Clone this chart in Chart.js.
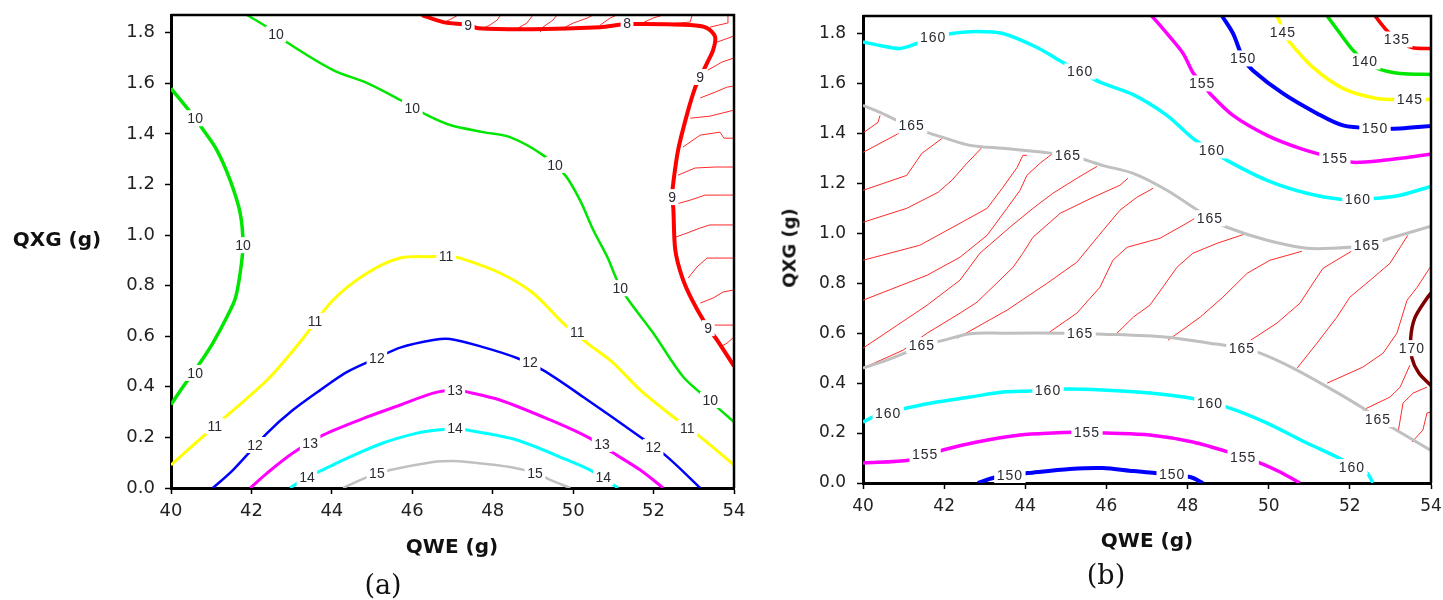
<!DOCTYPE html>
<html>
<head>
<meta charset="utf-8">
<script src="https://cdn.jsdelivr.net/npm/chart.js@4.4.1/dist/chart.umd.min.js"></script>
<style>
  body { margin: 0; background: #fff; width: 1443px; height: 600px; position: relative; overflow: hidden; }
  canvas { position: absolute; top: 0; }
  #chartA { left: 0; }
  #chartB { left: 770px; }
  .t { position: absolute; font: bold 20px "DejaVu Sans", sans-serif; color: #111; white-space: nowrap; transform: translate(-50%, -50%); }
  .cap { position: absolute; font: 27px "DejaVu Serif", serif; color: #111; transform: translate(-50%, -50%); }
</style>
</head>
<body>
<canvas id="chartA" width="760" height="600"></canvas>
<canvas id="chartB" width="673" height="600"></canvas>
<div class="t" style="left:57px; top:239px">QXG (g)</div>
<div class="t" style="left:452px; top:546px">QWE (g)</div>
<div class="cap" style="left:383px; top:584px">(a)</div>
<div class="t" style="left:789px; top:248px; font-size:18px; transform: translate(-50%, -50%) rotate(-90deg)">QXG (g)</div>
<div class="t" style="left:1147px; top:540px">QWE (g)</div>
<div class="cap" style="left:1106px; top:574px">(b)</div>
<script>
// axes
const xTicks = [40, 42, 44, 46, 48, 50, 52, 54];
const yTicks = [0.0, 0.2, 0.4, 0.6, 0.8, 1.0, 1.2, 1.4, 1.6, 1.8];
const yMax = 1.87;

// ---- panel (a): contours, [QWE, QXG]
const a10Top = [[41.89,1.87],[42.39,1.822],[42.91,1.759],[44.03,1.652],[44.88,1.601],[45.70,1.534],[46.37,1.474],[46.94,1.435],[47.76,1.407],[48.43,1.387],[49.25,1.316],[49.80,1.237],[50.17,1.138],[50.50,1.020],[50.85,0.913],[51.09,0.822],[51.34,0.751],[51.99,0.613],[52.74,0.439],[53.40,0.345],[54.0,0.261]];
const a10Left = [[40.0,1.58],[40.6,1.462],[40.77,1.423],[41.14,1.336],[41.47,1.217],[41.72,1.087],[41.79,0.96],[41.72,0.85],[41.6,0.75],[41.39,0.676],[41.04,0.573],[40.72,0.494],[40.30,0.40],[40.0,0.33]];
const a11 = [[40.0,0.091],[41.09,0.245],[42.39,0.427],[43.21,0.577],[44.03,0.743],[44.88,0.85],[45.70,0.909],[46.52,0.915],[46.84,0.917],[47.19,0.909],[48.18,0.85],[49.0,0.771],[49.75,0.652],[50.35,0.573],[51.0,0.494],[51.67,0.387],[52.49,0.281],[53.16,0.202],[54.0,0.091]];
const a12 = [[41.04,0],[41.54,0.071],[42.39,0.217],[43.03,0.308],[43.71,0.387],[44.38,0.459],[45.12,0.514],[45.70,0.555],[46.52,0.585],[46.94,0.589],[47.76,0.557],[48.6,0.514],[49.25,0.466],[50.25,0.36],[51.67,0.202],[52.34,0.123],[53.16,0]];
const a13 = [[41.97,0],[42.39,0.059],[43.03,0.138],[43.78,0.209],[44.88,0.281],[45.7,0.328],[46.52,0.375],[47.06,0.387],[47.36,0.38],[48.18,0.348],[49.43,0.269],[50.35,0.202],[51.0,0.138],[51.67,0.071],[52.24,0]];
const a14 = [[42.96,0],[43.38,0.043],[43.76,0.071],[44.45,0.123],[45.27,0.178],[46.12,0.217],[46.62,0.229],[47.06,0.233],[47.36,0.229],[48.6,0.19],[49.85,0.111],[50.42,0.071],[51.12,0]];
const a15 = [[44.28,0],[44.88,0.043],[45.45,0.071],[46.52,0.103],[47.0,0.107],[47.36,0.103],[48.43,0.083],[49.05,0.059],[49.43,0.032],[49.93,0]];
const a9 = [[46.24,1.87],[46.77,1.842],[47.39,1.830],[47.64,1.818],[49.0,1.814],[50.67,1.822],[51.34,1.834],[52.91,1.83],[53.33,1.818],[53.53,1.783],[53.48,1.731],[53.33,1.680],[53.16,1.625],[53.03,1.581],[52.84,1.482],[52.61,1.336],[52.49,1.206],[52.46,1.150],[52.49,1.107],[52.54,0.941],[52.71,0.834],[52.96,0.743],[53.36,0.632],[53.58,0.585],[54.0,0.482]];

// panel (a): thin hatch lines on the 9 side
const aHatch = [
  [[46.76,1.838],[47.01,1.858],[47.14,1.87]],
  [[47.76,1.818],[47.93,1.830],[48.11,1.85],[48.2,1.87]],
  [[48.63,1.818],[48.85,1.838],[49.0,1.87]],
  [[49.18,1.802],[49.25,1.822],[49.5,1.850],[49.6,1.87]],
  [[49.75,1.818],[50.0,1.838],[50.35,1.858],[50.5,1.87]],
  [[50.67,1.83],[50.92,1.858],[51.09,1.87]],
  [[51.66,1.834],[51.99,1.858],[52.24,1.87]],
  [[52.11,1.830],[52.58,1.838],[52.91,1.842],[52.96,1.87]],
  [[53.40,1.822],[53.83,1.838],[53.85,1.87]],
  [[53.58,1.763],[54.0,1.787]],
  [[53.35,1.652],[53.70,1.684],[54.0,1.70]],
  [[53.16,1.542],[53.53,1.565],[53.83,1.585],[54.0,1.589]],
  [[52.91,1.462],[53.40,1.470],[54.0,1.494]],
  [[52.73,1.348],[53.16,1.395],[53.65,1.407],[53.75,1.383],[54.0,1.383]],
  [[52.61,1.237],[53.03,1.265],[53.53,1.269],[54.0,1.269]],
  [[52.48,1.119],[52.91,1.138],[53.28,1.158],[54.0,1.158]],
  [[52.48,0.988],[52.83,1.008],[53.16,1.028],[53.40,1.040],[54.0,1.040]],
  [[52.86,0.83],[53.08,0.874],[53.33,0.909],[54.0,0.909]],
  [[53.16,0.731],[53.48,0.751],[53.73,0.775],[54.0,0.783]],
  [[53.33,0.644],[54.0,0.644]],
  [[53.65,0.557],[53.83,0.573],[54.0,0.597]]
];

const aLabels = [
  ['10',42.61,1.794],['10',46.0,1.502],['10',49.55,1.277],['10',51.17,0.79],['10',53.41,0.348],
  ['10',40.6,1.462],['10',41.79,0.96],['10',40.6,0.455],
  ['11',41.09,0.245],['11',43.58,0.66],['11',46.84,0.917],['11',50.1,0.617],['11',52.84,0.237],
  ['12',42.09,0.17],['12',45.12,0.514],['12',48.93,0.498],['12',51.99,0.162],
  ['13',43.46,0.178],['13',47.06,0.387],['13',50.72,0.174],
  ['14',43.38,0.043],['14',47.06,0.237],['14',50.75,0.043],
  ['15',45.12,0.059],['15',49.05,0.059],
  ['9',47.39,1.830],['8',51.34,1.838],['9',53.16,1.625],['9',52.46,1.150],['9',53.36,0.632]
];

// ---- panel (b): contours
const b160Top = [[40.0,1.766],[40.42,1.752],[40.91,1.74],[41.33,1.76],[41.73,1.784],[42.19,1.80],[42.81,1.808],[43.45,1.80],[44.29,1.744],[44.93,1.684],[45.35,1.648],[45.84,1.605],[46.66,1.555],[47.49,1.472],[48.13,1.38],[48.6,1.332],[48.97,1.292],[49.96,1.212],[50.94,1.16],[51.76,1.136],[52.20,1.136],[52.67,1.14],[53.24,1.152],[54.0,1.188]];
const b165Top = [[40.0,1.512],[40.42,1.484],[40.84,1.452],[41.2,1.432],[41.58,1.404],[41.97,1.384],[42.64,1.352],[43.45,1.34],[44.44,1.324],[45.05,1.312],[45.52,1.292],[45.9,1.272],[46.66,1.24],[47.49,1.172],[48.55,1.06],[48.97,1.024],[49.96,0.972],[50.94,0.94],[51.58,0.94],[52.42,0.952],[52.99,0.98],[54.0,1.028]];
const b165Low = [[40.0,0.46],[40.59,0.492],[41.08,0.524],[41.45,0.552],[41.90,0.568],[42.64,0.598],[43.45,0.6],[44.93,0.6],[45.92,0.596],[47.49,0.584],[48.55,0.56],[49.34,0.54],[49.79,0.52],[50.6,0.46],[51.58,0.372],[52.32,0.30],[52.69,0.256],[53.06,0.22],[54.0,0.13]];
const b160Low = [[40.0,0.244],[40.35,0.272],[41.08,0.30],[41.82,0.324],[42.64,0.344],[43.45,0.364],[44.12,0.368],[45.03,0.376],[45.9,0.372],[47.07,0.36],[48.06,0.34],[48.97,0.304],[49.96,0.24],[50.94,0.16],[51.68,0.104],[52.42,0.04],[52.57,0]];
const b155Low = [[40.0,0.08],[41.16,0.092],[41.97,0.132],[42.81,0.164],[43.87,0.192],[44.68,0.2],[45.52,0.204],[46.0,0.2],[47.07,0.192],[48.13,0.164],[49.0,0.124],[49.79,0.08],[50.28,0.044],[50.77,0]];
const b150Low = [[42.83,0],[43.2,0.02],[43.62,0.032],[44.07,0.04],[45.1,0.056],[45.9,0.06],[46.66,0.048],[47.2,0.04],[48.06,0.024],[48.38,0]];
const b155Top = [[47.12,1.87],[47.49,1.8],[47.89,1.72],[48.13,1.644],[48.36,1.6],[48.55,1.56],[49.12,1.472],[49.96,1.392],[50.77,1.34],[51.63,1.30],[52.08,1.284],[52.82,1.292],[54.0,1.316]];
const b150Top = [[48.85,1.87],[49.12,1.8],[49.37,1.70],[49.61,1.652],[50.35,1.56],[51.19,1.48],[51.83,1.432],[52.62,1.42],[53.24,1.42],[54.0,1.43]];
const b145 = [[50.2,1.87],[50.28,1.844],[50.35,1.804],[50.52,1.764],[51.09,1.664],[51.83,1.58],[52.67,1.54],[53.48,1.536],[54.0,1.536]];
const b140 = [[51.44,1.87],[51.76,1.8],[52.08,1.732],[52.37,1.688],[52.74,1.656],[53.24,1.64],[54.0,1.636]];
const b135 = [[52.62,1.87],[52.91,1.812],[53.16,1.776],[53.53,1.744],[54.0,1.74]];
const b170 = [[54.0,0.76],[53.9,0.74],[53.6,0.66],[53.5,0.58],[53.53,0.5],[53.7,0.44],[54.0,0.39]];

const bHatch = [
  [[40.02,1.404],[40.37,1.444],[40.42,1.472]],
  [[40.0,1.324],[40.79,1.392],[41.21,1.432]],
  [[40.0,1.172],[41.08,1.232],[41.45,1.32],[41.95,1.38]],
  [[40.0,1.044],[41.08,1.10],[41.85,1.164],[42.19,1.212],[42.56,1.28],[42.96,1.348]],
  [[40.0,0.892],[41.40,0.952],[42.39,1.04],[43.06,1.10],[43.45,1.184],[43.80,1.264],[43.94,1.312],[44.04,1.312]],
  [[40.0,0.732],[41.58,0.832],[42.39,0.904],[43.06,0.992],[43.55,1.10],[43.87,1.172],[44.04,1.232],[44.36,1.28],[44.68,1.32]],
  [[40.0,0.54],[41.58,0.712],[42.39,0.812],[42.88,0.92],[43.62,1.024],[44.19,1.10],[44.68,1.16],[45.27,1.22],[45.77,1.268]],
  [[40.0,0.46],[40.99,0.532],[41.58,0.60],[42.39,0.68],[42.81,0.724],[43.70,0.864],[43.94,0.92],[44.19,0.984],[44.86,1.08],[45.67,1.144],[46.33,1.192],[46.53,1.22]],
  [[42.32,0.58],[43.55,0.692],[44.54,0.80],[45.27,0.884],[45.92,1.012],[46.33,1.092],[46.75,1.144],[47.15,1.18]],
  [[44.56,0.60],[45.27,0.68],[45.84,0.784],[46.16,0.892],[46.51,0.944],[47.32,0.98],[47.89,1.032],[48.31,1.072]],
  [[46.26,0.60],[46.66,0.664],[47.07,0.712],[47.39,0.784],[47.74,0.864],[48.13,0.92],[48.73,0.96],[49.47,1.0]],
  [[47.52,0.572],[48.31,0.664],[48.87,0.744],[49.47,0.84],[50.03,0.892],[50.82,0.928]],
  [[49.37,0.552],[50.20,0.64],[50.77,0.72],[51.19,0.824],[51.34,0.86],[52.08,0.932]],
  [[50.70,0.46],[51.19,0.56],[51.68,0.664],[52.0,0.744],[52.50,0.812],[52.99,0.88],[53.43,0.992]],
  [[51.44,0.40],[52.32,0.464],[52.82,0.52],[53.16,0.60],[53.41,0.732],[53.66,0.784],[53.98,0.864]],
  [[52.32,0.292],[52.99,0.344],[53.24,0.384],[53.48,0.472]],
  [[53.19,0.204],[53.31,0.32],[53.56,0.36],[53.90,0.384]],
  [[53.53,0.164],[53.80,0.212],[53.90,0.28],[54.0,0.284]]
];

const bLabels = [
  ['160',41.73,1.784],['160',45.35,1.648],['165',41.2,1.432],['165',45.05,1.312],
  ['155',48.36,1.6],['150',49.37,1.70],['145',50.35,1.804],['135',53.16,1.776],['140',52.37,1.688],
  ['145',53.48,1.536],['150',52.62,1.42],['155',51.63,1.30],['160',48.6,1.332],['160',52.20,1.136],
  ['165',48.55,1.06],['165',52.42,0.952],['165',41.45,0.552],['165',45.35,0.6],['165',49.34,0.54],
  ['165',52.69,0.256],['170',53.53,0.54],['160',40.62,0.28],['160',44.56,0.372],['160',48.55,0.32],
  ['160',52.05,0.064],['155',41.53,0.116],['155',45.52,0.204],['155',49.37,0.104],['150',43.62,0.032],
  ['150',47.62,0.036]
];

function line(pts, color, width) {
  return {
    data: pts.map(([x, y]) => ({ x, y })),
    borderColor: color, borderWidth: width,
    showLine: true, pointRadius: 0, tension: 0.3, fill: false
  };
}

function hatch(pts) {
  return {
    data: pts.map(([x, y]) => ({ x, y })),
    borderColor: '#ff2a2a', borderWidth: 1,
    showLine: true, pointRadius: 0, tension: 0, fill: false
  };
}

// contour labels with a white box behind, plus the top/right frame
function decoPlugin(items, font, spacing) {
  return {
    id: 'deco',
    afterDatasetsDraw(chart) {
      const { ctx, chartArea: a, scales: { x, y } } = chart;
      ctx.save();
      ctx.beginPath();
      ctx.rect(a.left, a.top, a.right - a.left, a.bottom - a.top);
      ctx.clip();
      ctx.font = font;
      ctx.letterSpacing = spacing;
      ctx.textAlign = 'center';
      ctx.textBaseline = 'middle';
      items.forEach(([t, vx, vy]) => {
        const px = x.getPixelForValue(vx), py = y.getPixelForValue(vy);
        const w = ctx.measureText(t).width + 5;
        ctx.fillStyle = '#fff';
        ctx.fillRect(px - w / 2, py - 8, w, 16);
        ctx.fillStyle = '#2a2a33';
        ctx.fillText(t, px, py + 1);
      });
      ctx.restore();
      ctx.save();
      ctx.strokeStyle = '#000';
      ctx.lineWidth = 2.5;
      ctx.beginPath();
      ctx.moveTo(a.left, a.top);
      ctx.lineTo(a.right, a.top);
      ctx.lineTo(a.right, a.bottom);
      ctx.stroke();
      ctx.restore();
    }
  };
}

function makeChart(id, datasets, labels, o) {
  return new Chart(document.getElementById(id), {
    type: 'scatter',
    data: { datasets },
    options: {
      responsive: false, animation: false, events: [],
      layout: { padding: o.pad },
      plugins: { legend: { display: false }, tooltip: { enabled: false } },
      scales: {
        x: {
          type: 'linear', min: xTicks[0], max: xTicks[xTicks.length - 1],
          afterBuildTicks: s => { s.ticks = xTicks.map(v => ({ value: v })); },
          ticks: { font: { family: 'DejaVu Sans', size: o.fs }, color: '#222', padding: 7 },
          grid: { drawOnChartArea: false, tickLength: 6, tickColor: '#000', tickWidth: 1.5 },
          border: { color: '#000', width: 3 },
          afterFit: s => { s.height = o.xh; s.paddingLeft = 0; s.paddingRight = 0; }
        },
        y: {
          type: 'linear', min: 0, max: yMax,
          afterBuildTicks: s => { s.ticks = yTicks.map(v => ({ value: v })); },
          ticks: { font: { family: 'DejaVu Sans', size: o.fs }, color: '#222', padding: o.yp, callback: v => v.toFixed(1) },
          grid: { drawOnChartArea: false, tickLength: 6, tickColor: '#000', tickWidth: 1.5 },
          border: { color: '#000', width: 3 },
          afterFit: s => { s.width = o.yw; s.paddingTop = 0; s.paddingBottom = 0; }
        }
      }
    },
    plugins: [decoPlugin(labels, o.lf, o.ls)]
  });
}

makeChart('chartA', [
  line(a10Top, '#00e600', 2.5),
  line(a10Left, '#00e600', 3.5),
  line(a11, '#ffff00', 3),
  line(a12, '#0000ff', 2.5),
  line(a13, '#ff00ff', 3),
  line(a14, '#00ffff', 3),
  line(a15, '#c0c0c0', 2.5),
  line(a9, '#ff0000', 4),
  ...aHatch.map(hatch)
], aLabels, { pad: { left: 0, top: 15, right: 26, bottom: 0 }, xh: 112, yw: 171, fs: 18, yp: 10, lf: '14px "Liberation Sans"', ls: '0px' });

makeChart('chartB', [
  line(b160Top, '#00ffff', 3.5),
  line(b165Top, '#c0c0c0', 3),
  line(b165Low, '#c0c0c0', 3),
  line(b160Low, '#00ffff', 3.5),
  line(b155Low, '#ff00ff', 3.5),
  line(b150Low, '#0000ff', 4),
  line(b155Top, '#ff00ff', 3.5),
  line(b150Top, '#0000ff', 4),
  line(b145, '#ffff00', 3.5),
  line(b140, '#00e600', 3.5),
  line(b135, '#ff0000', 3.5),
  line(b170, '#800000', 3.5),
  ...bHatch.map(hatch)
], bLabels, { pad: { left: 0, top: 16, right: 12, bottom: 0 }, xh: 117, yw: 93, fs: 17, yp: 11, lf: '14px "Liberation Sans"', ls: '1px' });
</script>
</body>
</html>
